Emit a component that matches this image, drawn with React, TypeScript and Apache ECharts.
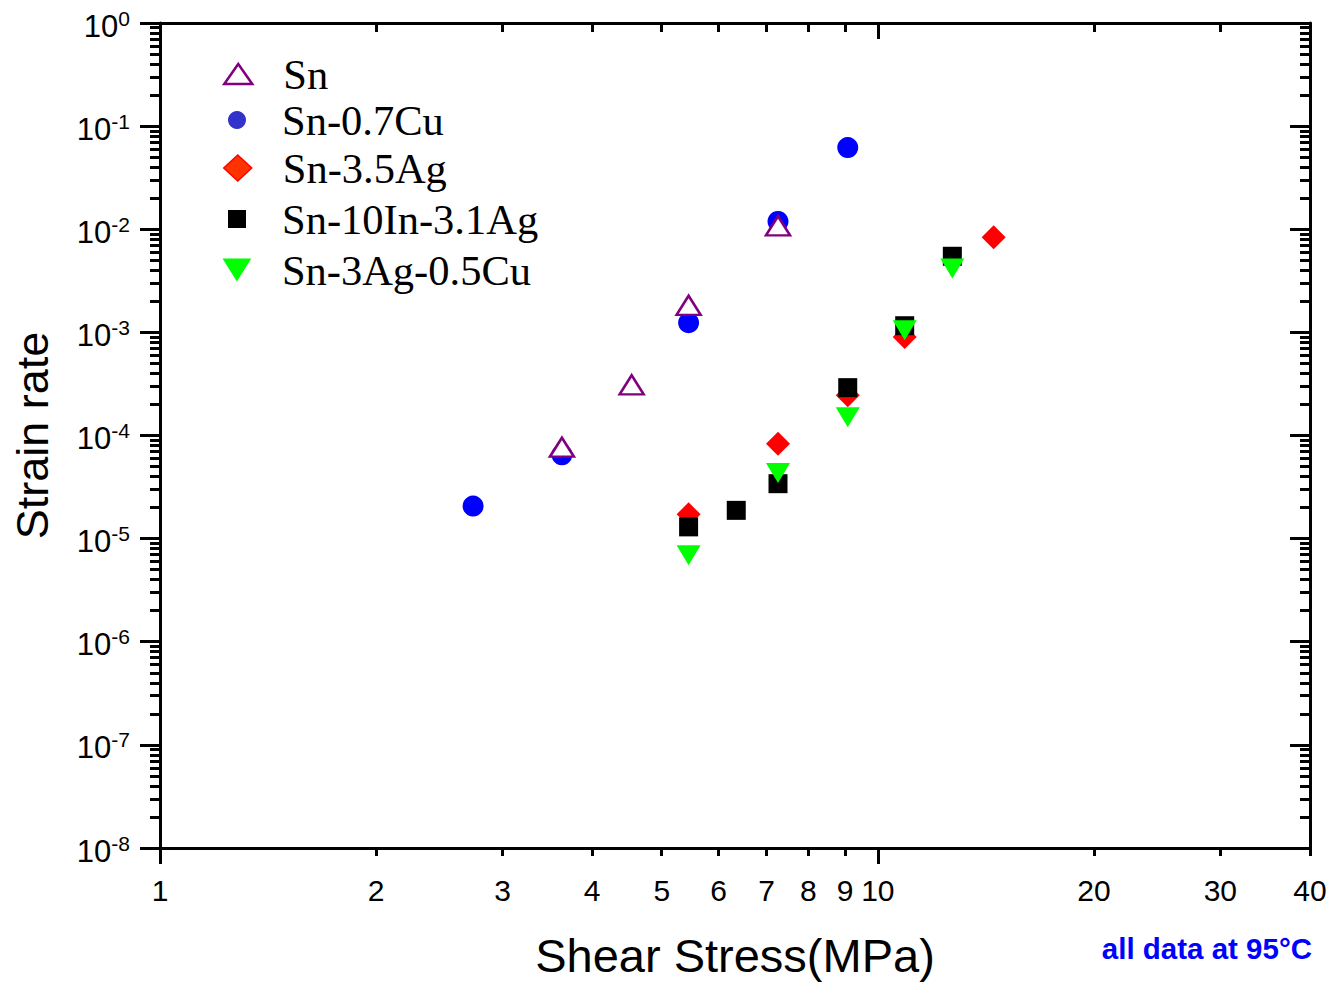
import React, { useEffect, useRef } from "react";
import * as echarts from "echarts";

// ---- data ----
const snStress = [3.63, 4.54, 5.45, 7.26];
const snRate = [7.7e-5, 3.1e-4, 1.83e-3, 1.08e-2];

const snCuStress = [2.73, 3.63, 5.45, 7.26, 9.08];
const snCuRate = [2.07e-5, 6.5e-5, 1.24e-3, 1.19e-2, 6.2e-2];

const snAgStress = [5.45, 7.26, 9.08, 10.9, 14.5];
const snAgRate = [1.72e-5, 8.3e-5, 2.45e-4, 9.0e-4, 8.35e-3];

const snInAgStress = [5.45, 6.35, 7.26, 9.08, 10.9, 12.7];
const snInAgRate = [1.3e-5, 1.88e-5, 3.41e-5, 2.91e-4, 1.16e-3, 5.47e-3];

const sacStress = [5.45, 7.26, 9.08, 10.9, 12.7];
const sacRate = [6.9e-6, 4.34e-5, 1.5e-4, 1.05e-3, 4.16e-3];

// ---- axis ticks ----
const xMajorTicks = [1, 10];
const xMinorTicks = [2, 3, 4, 5, 6, 7, 8, 9, 20, 30, 40];
const xTickLabels = [1, 2, 3, 4, 5, 6, 7, 8, 9, 10, 20, 30, 40];
const yDecades = [1e-8, 1e-7, 1e-6, 1e-5, 1e-4, 1e-3, 1e-2, 1e-1, 1];
const yMinorMultipliers = [2, 3, 4, 5, 6, 7, 8, 9];

const yMinorTicks: number[] = [];
yDecades.slice(0, -1).forEach((d) => yMinorMultipliers.forEach((m) => yMinorTicks.push(m * d)));

const pair = (xs: number[], ys: number[]) => xs.map((x, i) => [x, ys[i]]);

const X_MIN = 1;
const X_MAX = 40;
const Y_MIN = 1e-8;
const Y_MAX = 1;

const LINE = { show: true, lineStyle: { color: "#000", width: 3 } };
const NOLINE = { show: false };

function xAx(opts: any) {
  return {
    type: "log",
    logBase: 10,
    min: X_MIN,
    max: X_MAX,
    splitLine: { show: false },
    axisLabel: { show: false },
    ...opts,
  };
}
function yAx(opts: any) {
  return {
    type: "log",
    logBase: 10,
    min: Y_MIN,
    max: Y_MAX,
    splitLine: { show: false },
    axisLabel: { show: false },
    ...opts,
  };
}

export default function App() {
  const ref = useRef<HTMLDivElement>(null);
  useEffect(() => {
    if (!ref.current) return;
    const chart = echarts.init(ref.current, null, { renderer: "svg" });

    const legendRows = [
      { name: "Sn", cy: 74, w: 28, h: 20, icon: "triangle", style: { color: "#fff", borderColor: "#800080", borderWidth: 2.5 } },
      { name: "Sn-0.7Cu", cy: 120, w: 18, h: 18, icon: "circle", style: { color: "#3333CC", borderWidth: 0 } },
      { name: "Sn-3.5Ag", cy: 168, w: 28, h: 26, icon: "diamond", style: { color: "#FF3300", borderColor: "#FF0000", borderWidth: 1.5 } },
      { name: "Sn-10In-3.1Ag", cy: 219, w: 18, h: 18, icon: "rect", style: { color: "#000", borderWidth: 0 } },
      { name: "Sn-3Ag-0.5Cu", cy: 270, w: 29, h: 23, icon: "path://M0,0L20,0L10,16Z", style: { color: "#00FF00", borderWidth: 0 } },
    ];

    const legends = legendRows.map((r) => ({
      show: true,
      data: [{ name: r.name, icon: r.icon, itemStyle: r.style }],
      left: 237 - r.w / 2,
      top: r.cy - 22,
      padding: 0,
      itemWidth: r.w,
      itemHeight: r.h,
      selectedMode: false,
      textStyle: {
        fontFamily: "'Liberation Serif', 'Times New Roman', serif",
        fontSize: 42.5,
        lineHeight: 44,
        color: "#000",
        padding: [0, 0, 0, 40 - r.w / 2],
      },
    }));

    const tickFont = "'Liberation Sans', Arial, sans-serif";

    const option: any = {
      animation: false,
      backgroundColor: "#fff",
      grid: { left: 160, right: 21, top: 23, bottom: 132, containLabel: false },
      legend: legends,
      xAxis: [
        xAx({
          position: "bottom",
          axisLine: LINE,
          axisTick: { show: true, inside: false, length: 16, customValues: xMajorTicks, lineStyle: { width: 3, color: "#000" } },
          axisLabel: {
            show: true,
            customValues: xTickLabels,
            fontFamily: tickFont,
            fontSize: 30,
            color: "#000",
            margin: 27,
            formatter: (v: number) => String(Math.round(v * 100) / 100),
          },
          name: "Shear Stress(MPa)",
          nameLocation: "middle",
          nameGap: 84,
          nameTextStyle: { fontFamily: tickFont, fontSize: 47, color: "#000" },
        }),
        xAx({
          position: "bottom",
          axisLine: NOLINE,
          axisTick: { show: true, inside: false, length: 8, customValues: xMinorTicks, lineStyle: { width: 3, color: "#000" } },
        }),
        xAx({
          position: "top",
          axisLine: LINE,
          axisTick: { show: true, inside: true, length: 16, customValues: [10], lineStyle: { width: 3, color: "#000" } },
        }),
        xAx({
          position: "top",
          axisLine: NOLINE,
          axisTick: { show: true, inside: true, length: 9, customValues: xMinorTicks.slice(0, -1), lineStyle: { width: 3, color: "#000" } },
        }),
      ],
      yAxis: [
        yAx({
          position: "left",
          axisLine: LINE,
          axisTick: { show: true, inside: false, length: 20, customValues: yDecades, lineStyle: { width: 3, color: "#000" } },
          axisLabel: {
            show: true,
            customValues: yDecades,
            margin: 30,
            color: "#000",
            formatter: (v: number) => `{b|10}{s|${Math.round(Math.log10(v))}}`,
            rich: {
              b: { fontFamily: tickFont, fontSize: 31, lineHeight: 31, padding: [6, 0, 0, 0], color: "#000" },
              s: { fontFamily: tickFont, fontSize: 21, lineHeight: 21, verticalAlign: "top", color: "#000" },
            },
          },
          name: "Strain rate",
          nameLocation: "middle",
          nameGap: 105,
          nameTextStyle: { fontFamily: tickFont, fontSize: 45, color: "#000" },
        }),
        yAx({
          position: "left",
          axisLine: NOLINE,
          axisTick: { show: true, inside: false, length: 10, customValues: yMinorTicks, lineStyle: { width: 3, color: "#000" } },
        }),
        yAx({
          position: "right",
          axisLine: LINE,
          axisTick: { show: true, inside: true, length: 20, customValues: yDecades, lineStyle: { width: 3, color: "#000" } },
        }),
        yAx({
          position: "right",
          axisLine: NOLINE,
          axisTick: { show: true, inside: true, length: 10, customValues: yMinorTicks, lineStyle: { width: 3, color: "#000" } },
        }),
      ],
      series: [
        {
          name: "Sn-0.7Cu",
          type: "scatter",
          symbol: "circle",
          symbolSize: 21,
          itemStyle: { color: "#0000FF", opacity: 1 },
          data: pair(snCuStress, snCuRate),
        },
        {
          name: "Sn-3.5Ag",
          type: "scatter",
          symbol: "diamond",
          symbolSize: [24, 24],
          itemStyle: { color: "#FF0000", opacity: 1 },
          data: pair(snAgStress, snAgRate),
        },
        {
          name: "Sn-10In-3.1Ag",
          type: "scatter",
          symbol: "rect",
          symbolSize: [19, 19],
          itemStyle: { color: "#000000", opacity: 1 },
          data: pair(snInAgStress, snInAgRate),
        },
        {
          name: "Sn-3Ag-0.5Cu",
          type: "scatter",
          symbol: "triangle",
          symbolRotate: 180,
          symbolSize: [24, 20],
          itemStyle: { color: "#00FF00", opacity: 1 },
          data: pair(sacStress, sacRate),
        },
        {
          name: "Sn",
          type: "scatter",
          symbol: "triangle",
          symbolSize: [24, 19],
          itemStyle: { color: "#FFFFFF", borderColor: "#800080", borderWidth: 2.5, opacity: 1 },
          data: pair(snStress, snRate),
        },
      ],
      graphic: [
        {
          type: "text",
          right: 19,
          top: 933,
          style: {
            text: "all data at 95°C",
            fontFamily: tickFont,
            fontWeight: "bold",
            fontSize: 29.5,
            fill: "#0000FF",
          },
        },
      ],
    };

    chart.setOption(option);
    return () => chart.dispose();
  }, []);

  return (
    <div
      ref={ref}
      style={{ position: "absolute", left: 0, top: 0, width: 1331, height: 984, background: "#fff" }}
    />
  );
}
